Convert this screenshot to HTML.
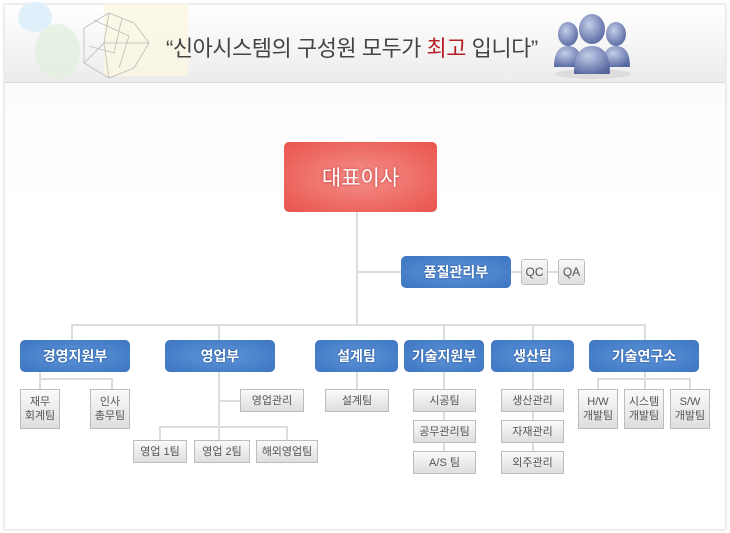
<!DOCTYPE html>
<html><head><meta charset="utf-8"><style>
*{margin:0;padding:0;box-sizing:border-box}
body{width:730px;height:533px;background:#fff;position:relative;overflow:hidden;font-family:"Liberation Sans","Noto Sans CJK KR","NanumGothic",sans-serif}
.a{position:absolute}
.frame{left:4px;top:4px;width:722px;height:526px;border:1px solid #e8e8e8;background:linear-gradient(#fafafa,#fff 200px);box-shadow:0 0 3px #ddd}
.hdr{left:5px;top:5px;width:720px;height:78px;background:linear-gradient(#fff,#ececec);border-bottom:1px solid #d8d8d8}
.l{position:absolute;background:#dcdcdc}
.d{position:absolute;height:32px;border-radius:5px;background:radial-gradient(ellipse at center,#5f95d8,#3c74c2);color:#fff;font-size:14px;font-weight:bold;display:flex;align-items:center;justify-content:center;text-shadow:0 0 2px #1d4a8a}
.s{position:absolute;background:linear-gradient(#fafafa,#dedede);border:1px solid #bdbdbd;color:#555;font-size:11px;display:flex;align-items:center;justify-content:center;text-align:center;line-height:14px}
</style></head><body>
<div class="a frame"></div>
<div class="a hdr"></div>
<div class="a" style="left:18px;top:2px;width:34px;height:30px;border-radius:50%;background:#dff0fb"></div>
<div class="a" style="left:35px;top:24px;width:45px;height:55px;border-radius:50%;background:#e2f0e0;opacity:.8"></div>
<div class="a" style="left:104px;top:4px;width:84px;height:72px;background:#fbf6e2;opacity:.8"></div>
<svg class="a" style="left:74px;top:8px" width="90" height="72"><g fill="none" stroke="#bbb" stroke-width="0.8"><path d="M10 20 L35 5 L60 15 L75 35 L60 60 L35 70 L10 55 Z M35 5 L30 35 L10 55 M30 35 L75 35 M30 35 L35 70 M20 12 L55 28 L45 60 M48 10 L40 45 L15 38"/></g></svg>
<div class="a" style="left:166px;top:31px;font-size:22px;color:#444;letter-spacing:-0.5px;white-space:nowrap">“신아시스템의 구성원 모두가 <span style="color:#b52025">최고</span> 입니다”</div>
<svg class="a" style="left:552px;top:12px" width="82" height="68"><defs><radialGradient id="g" cx=".4" cy=".35" r=".7"><stop offset="0" stop-color="#c4cde8"/><stop offset="1" stop-color="#5667a0"/></radialGradient></defs><ellipse cx="41" cy="62" rx="38" ry="5" fill="#ddd"/><ellipse cx="16" cy="22" rx="10" ry="12" fill="url(#g)"/><path d="M2 55 Q2 34 16 34 Q30 34 30 55Z" fill="url(#g)"/><ellipse cx="64" cy="22" rx="10" ry="12" fill="url(#g)"/><path d="M50 55 Q50 34 64 34 Q78 34 78 55Z" fill="url(#g)"/><ellipse cx="40" cy="17" rx="13" ry="15" fill="url(#g)"/><path d="M22 62 Q22 34 40 34 Q58 34 58 62Z" fill="url(#g)"/></svg>

<div class="l" style="left:356px;top:212px;width:2px;height:114px"></div>
<div class="l" style="left:357px;top:271px;width:201px;height:2px"></div>
<div class="l" style="left:71px;top:324px;width:575px;height:2px"></div>
<div class="l" style="left:71px;top:324px;width:2px;height:16px"></div>
<div class="l" style="left:218px;top:324px;width:2px;height:16px"></div>
<div class="l" style="left:443px;top:324px;width:2px;height:16px"></div>
<div class="l" style="left:532px;top:324px;width:2px;height:16px"></div>
<div class="l" style="left:644px;top:324px;width:2px;height:16px"></div>
<div class="l" style="left:39px;top:372px;width:2px;height:17px"></div>
<div class="l" style="left:39px;top:378px;width:73px;height:2px"></div>
<div class="l" style="left:111px;top:378px;width:2px;height:11px"></div>
<div class="l" style="left:218px;top:372px;width:2px;height:56px"></div>
<div class="l" style="left:218px;top:400px;width:22px;height:2px"></div>
<div class="l" style="left:159px;top:426px;width:129px;height:2px"></div>
<div class="l" style="left:159px;top:426px;width:2px;height:14px"></div>
<div class="l" style="left:218px;top:426px;width:2px;height:14px"></div>
<div class="l" style="left:286px;top:426px;width:2px;height:14px"></div>
<div class="l" style="left:356px;top:372px;width:2px;height:17px"></div>
<div class="l" style="left:443px;top:372px;width:2px;height:80px"></div>
<div class="l" style="left:532px;top:372px;width:2px;height:80px"></div>
<div class="l" style="left:644px;top:372px;width:2px;height:17px"></div>
<div class="l" style="left:597px;top:378px;width:94px;height:2px"></div>
<div class="l" style="left:597px;top:378px;width:2px;height:11px"></div>
<div class="l" style="left:689px;top:378px;width:2px;height:11px"></div>

<div class="a" style="left:284px;top:142px;width:153px;height:70px;border-radius:5px;background:radial-gradient(ellipse at center,#f4908a,#e9534c);color:#fff;font-size:21px;display:flex;align-items:center;justify-content:center;text-shadow:0 0 3px #b33">대표이사</div>
<div class="d" style="left:401px;top:256px;width:110px">품질관리부</div>
<div class="s" style="left:521px;top:259px;width:27px;height:26px;border-radius:3px;font-size:12px">QC</div>
<div class="s" style="left:558px;top:259px;width:27px;height:26px;border-radius:3px;font-size:12px">QA</div>

<div class="d" style="left:20px;top:340px;width:110px">경영지원부</div>
<div class="d" style="left:165px;top:340px;width:110px">영업부</div>
<div class="d" style="left:315px;top:340px;width:83px">설계팀</div>
<div class="d" style="left:404px;top:340px;width:80px">기술지원부</div>
<div class="d" style="left:491px;top:340px;width:83px">생산팀</div>
<div class="d" style="left:589px;top:340px;width:110px">기술연구소</div>

<div class="s" style="left:20px;top:389px;width:40px;height:40px">재무<br>회계팀</div>
<div class="s" style="left:90px;top:389px;width:40px;height:40px">인사<br>총무팀</div>
<div class="s" style="left:240px;top:389px;width:64px;height:23px">영업관리</div>
<div class="s" style="left:133px;top:440px;width:54px;height:23px">영업 1팀</div>
<div class="s" style="left:194px;top:440px;width:56px;height:23px">영업 2팀</div>
<div class="s" style="left:256px;top:440px;width:62px;height:23px">해외영업팀</div>
<div class="s" style="left:325px;top:389px;width:64px;height:23px">설계팀</div>
<div class="s" style="left:413px;top:389px;width:63px;height:23px">시공팀</div>
<div class="s" style="left:413px;top:420px;width:63px;height:23px">공무관리팀</div>
<div class="s" style="left:413px;top:451px;width:63px;height:23px">A/S 팀</div>
<div class="s" style="left:501px;top:389px;width:63px;height:23px">생산관리</div>
<div class="s" style="left:501px;top:420px;width:63px;height:23px">자재관리</div>
<div class="s" style="left:501px;top:451px;width:63px;height:23px">외주관리</div>
<div class="s" style="left:578px;top:389px;width:40px;height:40px">H/W<br>개발팀</div>
<div class="s" style="left:624px;top:389px;width:40px;height:40px">시스템<br>개발팀</div>
<div class="s" style="left:670px;top:389px;width:40px;height:40px">S/W<br>개발팀</div>
</body></html>
